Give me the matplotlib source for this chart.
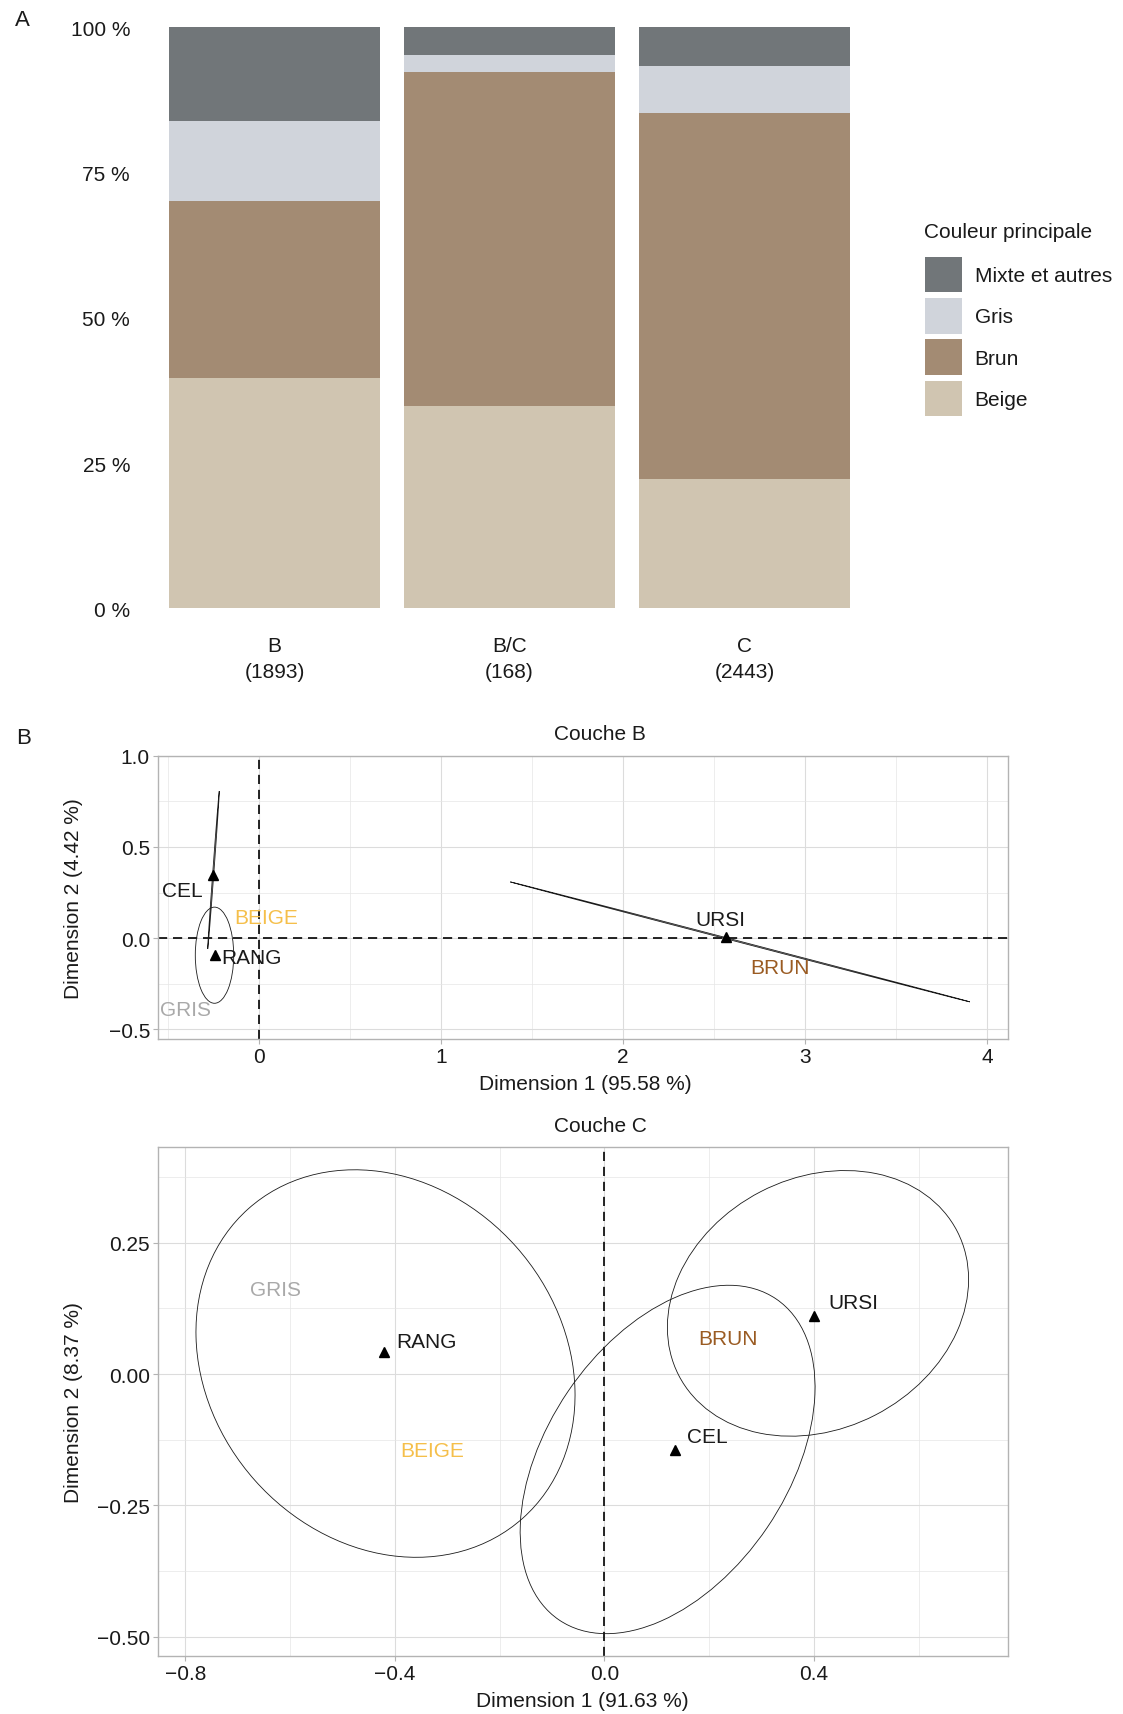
import matplotlib
matplotlib.use("Agg")
import matplotlib.pyplot as plt
from matplotlib.patches import Ellipse, Patch

plt.rcParams['font.family'] = ['Liberation Sans', 'DejaVu Sans']
plt.rcParams['font.size'] = 15
plt.rcParams['text.color'] = '#1a1a1a'

# --- A: couleur principale par couche (%)
layers = ["B", "B/C", "C"]
layer_counts = [1893, 168, 2443]
colour_names = ["Beige", "Brun", "Gris", "Mixte et autres"]
colour_fills = ["#d0c5b1", "#a38b73", "#d0d4db", "#717679"]
pct_beige = [39.7, 34.8, 22.3]
pct_brun = [30.4, 57.4, 62.9]
pct_gris = [13.8, 3.0, 8.1]
pct_mixte = [16.1, 4.8, 6.7]

# --- B: couche B (AFC), points, labels and ellipses
b_point_names = ["CEL", "RANG", "URSI"]
b_point_x = [-0.249, -0.240, 2.567]
b_point_y = [0.348, -0.092, 0.004]
b_label_x = [-0.418, -0.042, 2.535]
b_label_y = [0.262, -0.104, 0.103]
b_mod_names = ["BEIGE", "GRIS", "BRUN"]
b_mod_x = [0.044, -0.403, 2.862]
b_mod_y = [0.115, -0.392, -0.162]
# centre x, centre y, semi-major, semi-minor, angle (deg)
b_ell_cx = [-0.248, -0.2425, 2.644]
b_ell_cy = [0.3735, -0.0935, -0.0205]
b_ell_a = [0.4337, 0.2635, 1.304]
b_ell_b = [0.003, 0.1055, 0.003]
b_ell_ang = [85.8, 90.0, -14.6]

# --- C: couche C
c_point_names = ["RANG", "URSI", "CEL"]
c_point_x = [-0.421, 0.4006, 0.134]
c_point_y = [0.0426, 0.111, -0.144]
c_label_x = [-0.3405, 0.476, 0.197]
c_label_y = [0.0626, 0.137, -0.119]
c_mod_names = ["GRIS", "BEIGE", "BRUN"]
c_mod_x = [-0.628, -0.329, 0.236]
c_mod_y = [0.160, -0.145, 0.0685]
c_ell_cx = [-0.418, 0.1205, 0.4075]
c_ell_cy = [0.020, -0.1625, 0.1345]
c_ell_a = [0.394, 0.369, 0.299]
c_ell_b = [0.334, 0.230, 0.239]
c_ell_ang = [-48.3, 55.8, 27.2]

mod_colours = {"BEIGE": "#f5bf4a", "GRIS": "#a9a9a9", "BRUN": "#9a5b22"}

W, H = 1123, 1715
fig = plt.figure(figsize=(W / 100, H / 100), dpi=100)


def box(left, top, right, bottom):
    return [left / W, 1 - bottom / H, (right - left) / W, (bottom - top) / H]


def fmt(v, nd):
    s = f"{v:.{nd}f}"
    return s.replace("-", "\u2212")


# ---------------- panel A
axA = fig.add_axes(box(133.5, 28.1, 885.5, 609.4))
xs = [1, 2, 3]
bottom = [0.0, 0.0, 0.0]
for vals, name, col in zip([pct_beige, pct_brun, pct_gris, pct_mixte], colour_names, colour_fills):
    axA.bar(xs, vals, bottom=bottom, width=0.9, color=col, label=name, linewidth=0)
    bottom = [b + v for b, v in zip(bottom, vals)]
axA.set_xlim(0.4, 3.6)
axA.set_ylim(0, 100)
axA.set_yticks([0, 25, 50, 75, 100], [f"{t} %" for t in [0, 25, 50, 75, 100]])
axA.set_xticks(xs, [f"{l}\n({n})" for l, n in zip(layers, layer_counts)])
axA.tick_params(axis='both', length=0, colors='#1a1a1a', labelsize=15)
axA.tick_params(axis='y', pad=2.5)
axA.tick_params(axis='x', pad=20)
for lbl in axA.get_xticklabels():
    lbl.set_linespacing(1.45)
for sp in axA.spines.values():
    sp.set_visible(False)

fig.text(924.5 / W, 1 - 233 / H, "Couleur principale", ha='left', va='center', fontsize=15)
handles = [Patch(facecolor=c, edgecolor='none') for c in colour_fills[::-1]]
fig.legend(handles, colour_names[::-1], loc='upper left',
           bbox_to_anchor=(924.5 / W, 1 - 257.6 / H), frameon=False,
           handlelength=1.8, handleheight=2.25, labelspacing=0.28,
           handletextpad=0.61, borderpad=0, borderaxespad=0, fontsize=15)

fig.text(22 / W, 1 - 20 / H, "A", ha='center', va='center', fontsize=16)
fig.text(23.6 / W, 1 - 738.3 / H, "B", ha='center', va='center', fontsize=16)


def style_map(ax, xmaj, xmin, ymaj, ymin, xnd, ynd):
    ax.set_xticks(xmaj, [fmt(v, xnd) for v in xmaj])
    ax.set_yticks(ymaj, [fmt(v, ynd) for v in ymaj])
    ax.set_xticks(xmin, minor=True)
    ax.set_yticks(ymin, minor=True)
    ax.grid(which='major', color='#dcdcdc', linewidth=0.8, zorder=0)
    ax.grid(which='minor', color='#e6e6e6', linewidth=0.5, zorder=0)
    ax.set_axisbelow(True)
    ax.tick_params(which='major', length=3.3, width=0.8, color='#b3b3b3',
                   labelcolor='#1a1a1a', labelsize=15, pad=2.2)
    ax.tick_params(which='minor', length=0)
    for sp in ax.spines.values():
        sp.set_color('#b3b3b3')
        sp.set_linewidth(1.0)


def draw_map(ax, px, py, names, lx, ly, mods, mx, my, ecx, ecy, ea, eb, eang):
    for cx, cy, a, b, ang in zip(ecx, ecy, ea, eb, eang):
        ax.add_patch(Ellipse((cx, cy), 2 * a, 2 * b, angle=ang, fill=False,
                             edgecolor='#1a1a1a', linewidth=0.6, zorder=3))
    ax.plot(px, py, linestyle='none', marker='^', markersize=7, color='black', zorder=4)
    for n, x, y in zip(names, lx, ly):
        ax.text(x, y, n, ha='center', va='center', fontsize=15, color='#1a1a1a', zorder=5)
    for n, x, y in zip(mods, mx, my):
        ax.text(x, y, n, ha='center', va='center', fontsize=15, color=mod_colours[n], zorder=5)


dash = (0, (5.5, 3.5))

# ---------------- panel B: couche B
axB = fig.add_axes(box(157.6, 756.7, 1007.9, 1040.4))
axB.set_xlim(-0.555, 4.115)
axB.set_ylim(-0.555, 1.0)
style_map(axB, [0, 1, 2, 3, 4], [-0.5, 0.5, 1.5, 2.5, 3.5],
          [-0.5, 0.0, 0.5, 1.0], [-0.25, 0.25, 0.75], 0, 1)
axB.axhline(0, color='black', linestyle=dash, linewidth=1.2, zorder=2)
axB.axvline(0, color='black', linestyle=dash, linewidth=1.2, zorder=2)
draw_map(axB, b_point_x, b_point_y, b_point_names, b_label_x, b_label_y,
         b_mod_names, b_mod_x, b_mod_y, b_ell_cx, b_ell_cy, b_ell_a, b_ell_b, b_ell_ang)
fig.text(600.3 / W, 1 - 734.8 / H, "Couche B", ha='center', va='center', fontsize=15)
fig.text(585.7 / W, 1 - 1085 / H, "Dimension 1 (95.58 %)", ha='center', va='center', fontsize=15)
fig.text(73.8 / W, 1 - 898.5 / H, "Dimension 2 (4.42 %)", ha='center', va='center',
         rotation=90, fontsize=15)

# ---------------- panel C: couche C
axC = fig.add_axes(box(157.6, 1148.0, 1007.9, 1657.3))
axC.set_xlim(-0.853, 0.770)
axC.set_ylim(-0.537, 0.432)
style_map(axC, [-0.8, -0.4, 0.0, 0.4], [-0.6, -0.2, 0.2, 0.6],
          [-0.5, -0.25, 0.0, 0.25], [-0.375, -0.125, 0.125, 0.375], 1, 2)
axC.axvline(0, color='black', linestyle=dash, linewidth=1.2, zorder=2)
draw_map(axC, c_point_x, c_point_y, c_point_names, c_label_x, c_label_y,
         c_mod_names, c_mod_x, c_mod_y, c_ell_cx, c_ell_cy, c_ell_a, c_ell_b, c_ell_ang)
fig.text(600.3 / W, 1 - 1126 / H, "Couche C", ha='center', va='center', fontsize=15)
fig.text(582 / W, 1 - 1702 / H, "Dimension 1 (91.63 %)", ha='center', va='center', fontsize=15)
fig.text(73.8 / W, 1 - 1402.5 / H, "Dimension 2 (8.37 %)", ha='center', va='center',
         rotation=90, fontsize=15)

fig.savefig("out.png", dpi=100, facecolor='white')
